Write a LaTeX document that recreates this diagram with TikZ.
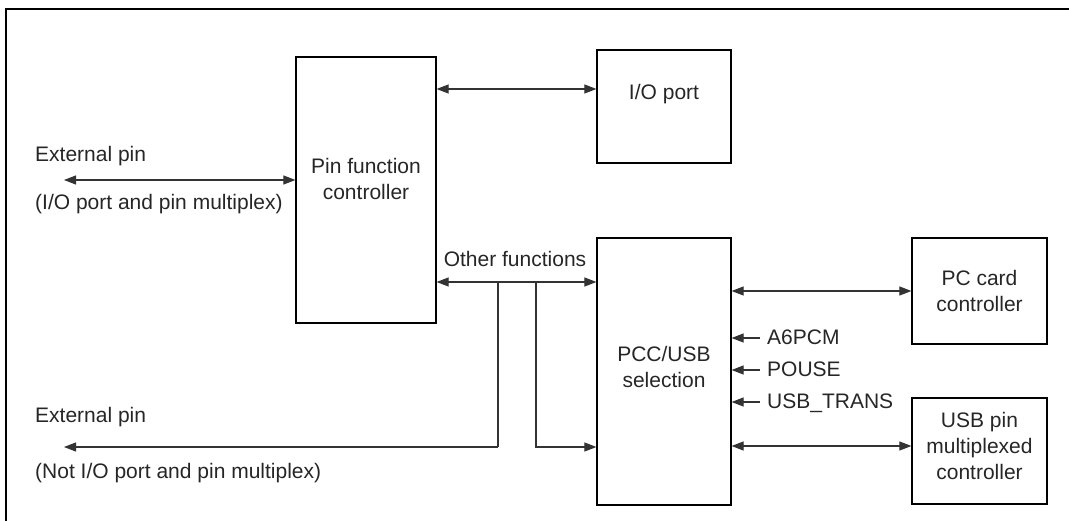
\documentclass[tikz,border=0pt]{standalone}
\usepackage{fontspec}
\setmainfont{Liberation Sans}
\usetikzlibrary{arrows.meta}
\begin{document}
\begin{tikzpicture}[x=1pt,y=-1pt,
  box/.style={draw, line width=1.2pt, inner sep=0pt},
  lbl/.style={inner sep=0pt, align=center, font=\fontsize{21}{26}\selectfont, text=black!85},
  conn/.style={line width=1.1pt, draw=black!80},
  tip/.style={-{Triangle[length=12pt,width=9pt]}},
  bitip/.style={{Triangle[length=12pt,width=9pt]}-{Triangle[length=12pt,width=9pt]}}]
\useasboundingbox (0,0) rectangle (1069,521);
\draw[line width=2.5pt] (6,521) -- (6,9) -- (1069,9);

% boxes
\node[box, minimum width=140pt, minimum height=266pt] (pfc) at (366,190) {};
\node[box, minimum width=134pt, minimum height=113pt] (io) at (664,106.5) {};
\node[box, minimum width=134pt, minimum height=267pt] (pcc) at (664,371.5) {};
\node[box, minimum width=135pt, minimum height=106pt] (pcc2) at (979.5,291) {};
\node[box, minimum width=135pt, minimum height=106pt] (usb) at (979.5,451) {};

% box texts
\node[lbl] (tpfc) at (366,178.5) {Pin function\\controller};
\node[lbl] (tio) at (664,94.5) {I/O port};
\node[lbl] (tpcc) at (664,367) {PCC/USB\\selection};
\node[lbl] (tpc2) at (979.5,290.5) {PC card\\controller};
\node[lbl] (tusb) at (979.5,445.5) {USB pin\\multiplexed\\controller};

% external pin labels
\node[lbl, anchor=base west] (ext1) at (35,161.7) {External pin};
\node[lbl, anchor=base west] (ext1b) at (35,210) {(I/O port and pin multiplex)};
\node[lbl, anchor=base west] (ext2) at (35,423) {External pin};
\node[lbl, anchor=base west] (ext2b) at (35,478) {(Not I/O port and pin multiplex)};
\node[lbl, anchor=base] (oth) at (515,267) {Other functions};

% coordinates
\coordinate (e1) at (64,180);
\coordinate (e2) at (64,447);
\coordinate (j1) at (498,282);
\coordinate (j2) at (536,282);
\coordinate (j1b) at (498,447);
\coordinate (j2b) at (536,447);
\coordinate (s1) at (760,338);
\coordinate (s2) at (760,370);
\coordinate (s3) at (760,402);

% connectors
\draw[conn, bitip] (e1) -- (e1 -| pfc.west);
\draw[conn, bitip] (pfc.east |- 0,89) -- (io.west |- 0,89);
\draw[conn, bitip] (pfc.east |- j1) -- (pcc.west |- j1);
\draw[conn] (j1) -- (j1b);
\draw[conn, tip] (j1b) -- (e2);
\draw[conn, tip] (j2) -- (j2b) -- (pcc.west |- j2b);
\draw[conn, bitip] (pcc.east |- 0,291) -- (pcc2.west |- 0,291);
\draw[conn, bitip] (pcc.east |- 0,446) -- (usb.west |- 0,446);

% control signals
\draw[conn, tip] (s1) -- (s1 -| pcc.east);
\draw[conn, tip] (s2) -- (s2 -| pcc.east);
\draw[conn, tip] (s3) -- (s3 -| pcc.east);
\node[lbl, anchor=base west] (a6) at (767,345) {A6PCM};
\node[lbl, anchor=base west] (pou) at (767,377) {POUSE};
\node[lbl, anchor=base west] (ust) at (767,408.5) {USB\_TRANS};
\end{tikzpicture}
\end{document}
